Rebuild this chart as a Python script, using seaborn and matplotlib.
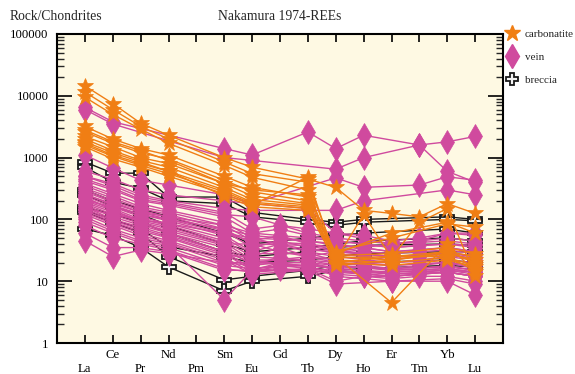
import numpy as np
import pandas as pd
import matplotlib
matplotlib.use("Agg")
import matplotlib.pyplot as plt
from matplotlib.lines import Line2D
import seaborn as sns

N = np.nan
elements = ["La", "Ce", "Pr", "Nd", "Pm", "Sm", "Eu", "Gd", "Tb", "Dy", "Ho", "Er", "Tm", "Yb", "Lu"]

carbonatite = [
    [14500, 7500, 3600, 2300, N, 1000, 700, N, 450, 330, 140, 125, 110, 180, 125],
    [11500, 6000, 3200, 2000, N, 850, 550, N, 400, 25, N, 22, N, 28, 22],
    [9500, 5000, 2900, 1700, N, 750, 480, N, 300, 22, N, 20, N, 24, 18],
    [3200, 2000, 1400, 1100, N, 500, 330, N, 230, 24, N, 25, N, 30, 25],
    [2600, 1700, 1200, 950, N, 430, 280, N, 200, 20, N, 18, N, 22, 17],
    [2200, 1500, 1000, 800, N, 380, 240, N, 180, 18, N, 22, N, 30, 20],
    [2000, 1300, 900, 700, N, 330, 210, N, 170, 30, N, 50, N, 85, 75],
    [1800, 1200, 850, 600, N, 300, 190, N, 160, 26, N, 28, N, 35, 28],
    [1600, 1050, 750, 550, N, 280, 180, N, 150, 25, N, 4.5, N, 40, 14],
    [1500, 950, 700, 500, N, 260, 170, N, 480, 22, 120, 24, 90, 150, 12],
    [2800, 1800, 1300, 900, N, 380, 300, N, 250, 28, N, 60, N, 90, 60],
    [1700, 1100, 800, 600, N, 240, 160, N, 140, 20, N, 25, N, 25, 15],
]

vein = [
    [6500, 3800, N, N, N, 1400, 1100, N, 2600, 1400, 2300, N, 1600, 600, 400],
    [6000, 3500, N, N, N, 1000, 900, N, N, 650, 1000, N, 1600, 1800, 2200],
    [600, 450, 300, 250, N, 200, 180, N, N, 470, 330, N, 360, 490, 430],
    [500, 380, 250, 200, N, 150, 140, N, N, 140, 200, N, N, 300, 250],
    [1100, 680, 430, 360, N, 250, 180, N, 150, 60, N, 40, N, 45, 40],
    [420, 300, 200, 170, N, 110, 60, 70, 55, 45, 40, 35, 38, 40, 35],
    [380, 260, 180, 140, N, 90, 50, N, 45, 40, N, 30, N, 35, 30],
    [350, 240, 160, 130, N, 80, 45, 55, 40, 35, 30, 28, 30, 32, 28],
    [320, 220, 150, 120, N, 70, 40, N, 38, 30, N, 25, N, 28, 22],
    [300, 200, 140, 110, N, 65, 35, 45, 35, 28, 25, 22, 25, 26, 24],
    [280, 190, 130, 100, N, 60, 50, N, 30, 25, N, 20, N, 22, 20],
    [260, 170, 120, 95, N, 55, 30, 40, 32, 30, 28, 24, 26, 30, 25],
    [240, 160, 110, 85, N, 50, 28, N, 28, 22, N, 18, N, 20, 18],
    [220, 150, 100, 80, N, 45, 25, 35, 25, 20, 18, 16, 18, 20, 16],
    [200, 140, 95, 75, N, 42, 22, N, 22, 18, N, 15, N, 16, 14],
    [190, 130, 90, 70, N, 40, 40, 30, 25, 22, 20, 20, 22, 25, 22],
    [180, 120, 85, 65, N, 38, 20, N, 20, 15, N, 12, N, 14, 12],
    [170, 110, 80, 60, N, 35, 18, 25, 20, 16, 15, 13, 14, 15, 13],
    [160, 100, 75, 55, N, 30, 16, N, 18, 12, N, 10, N, 11, 9],
    [150, 95, 70, 52, N, 28, 15, 20, 17, 14, 13, 12, 13, 14, 12],
    [140, 90, 65, 50, N, 26, 25, N, 22, 20, N, 18, N, 20, 18],
    [130, 85, 60, 45, N, 24, 14, 18, 16, 10, 12, 11, 12, 12, 10],
    [120, 80, 55, 42, N, 22, 13, N, 15, 9, N, 10, N, 10, 6],
    [110, 70, 50, 40, N, 20, 18, 20, 20, 18, 17, 15, 16, 18, 15],
    [100, 65, 45, 38, N, 5, 15, N, 15, 14, N, 14, N, 15, 14],
    [90, 60, 42, 35, N, 18, 16, 18, 18, 16, 15, 14, 15, 16, 14],
    [80, 50, 40, 32, N, 16, 14, N, 16, 15, N, 13, N, 14, 12],
    [60, 35, 35, 30, N, 15, 15, 16, 15, 13, 12, 12, 13, 14, 12],
    [45, 25, 32, 28, N, 20, 20, N, 18, 17, N, 16, N, 17, 15],
    [500, 350, 230, 190, N, 130, 70, 80, 70, 60, 55, 45, 50, 60, 55],
    [450, 320, 210, 180, N, 120, 110, N, 60, 50, N, 40, N, 50, 45],
    [250, 180, 130, 110, N, 80, 60, N, 50, 45, N, 35, N, 40, 38],
    [200, 160, 120, 100, N, 70, 55, 50, 45, 38, 35, 30, 32, 35, 30],
    [150, 120, 100, 85, N, 60, 45, N, 40, 32, N, 25, N, 28, 25],
    [230, 140, 90, 60, N, 30, 20, N, 25, 30, 35, 40, 45, 60, 60],
]

breccia = [
    [850, 560, 560, 230, N, 230, 130, N, 100, 90, 100, N, N, 110, 100],
    [700, 400, 320, 200, N, 180, 110, N, 90, 80, 90, N, N, 100, 95],
    [300, 200, 150, 110, N, 60, 40, N, 50, 55, 60, N, N, 70, 60],
    [140, 100, 70, 36, N, 25, 20, N, 22, 25, 28, N, N, 30, 30],
    [130, 90, 60, 25, N, 10.5, 12, N, 15, 18, 20, N, N, 22, 20],
    [70, 55, 35, 17, N, 7, 10, N, 12, 15, 16, N, N, 18, 17],
    [250, 160, 120, 80, N, 40, 30, N, 35, 40, 45, N, N, 50, 45],
    [160, 120, 90, 60, N, 30, 25, N, 30, 35, 38, N, N, 40, 38],
]

groups = ["carbonatite", "vein", "breccia"]
colors = {"carbonatite": "#F07E14", "vein": "#D04A9E", "breccia": "#1A1A1A"}


def long_frame(rows, name):
    recs = []
    for i, row in enumerate(rows):
        for j, v in enumerate(row):
            if not np.isnan(v):
                recs.append({"sample": f"{name}{i}", "group": name, "pos": j, "value": v})
    return pd.DataFrame(recs)


sns.set_theme(style="white")
plt.rcParams["font.family"] = ["Liberation Serif", "DejaVu Serif"]

fig = plt.figure(figsize=(5.75, 3.74), dpi=100)
ax = fig.add_axes([57 / 575, 1 - 343 / 374, (503 - 57) / 575, (343 - 34) / 374])
ax.set_facecolor("#FEF9E3")

bg = long_frame(breccia, "breccia")
sns.lineplot(data=bg, x="pos", y="value", units="sample", estimator=None, sort=False,
             color="#1A1A1A", lw=1.0, marker="P", markersize=9.5,
             markerfacecolor="#F4F4F4", markeredgecolor="#1A1A1A", markeredgewidth=1.3,
             ax=ax, legend=False)
vg = long_frame(vein, "vein")
sns.lineplot(data=vg, x="pos", y="value", units="sample", estimator=None, sort=False,
             color=colors["vein"], lw=1.0, marker="d", markersize=12,
             markerfacecolor=colors["vein"], markeredgecolor=colors["vein"], markeredgewidth=0.5,
             ax=ax, legend=False)
cg = long_frame(carbonatite, "carbonatite")
sns.lineplot(data=cg, x="pos", y="value", units="sample", estimator=None, sort=False,
             color=colors["carbonatite"], lw=1.0, marker="*", markersize=12,
             markerfacecolor=colors["carbonatite"], markeredgecolor=colors["carbonatite"],
             markeredgewidth=0.5, ax=ax, legend=False)

ax.set_yscale("log")
ax.set_ylim(1, 100000)
ax.set_xlim(-1, 15)
ax.set_xticks(range(len(elements)))
ax.set_xticklabels([("\n" + e) if i % 2 == 0 else e for i, e in enumerate(elements)],
                   fontsize=9.2, linespacing=1.3)
ax.set_yticks([1, 10, 100, 1000, 10000, 100000])
ax.set_yticklabels(["1", "10", "100", "1000", "10000", "100000"], fontsize=9.2)
ax.yaxis.set_minor_locator(matplotlib.ticker.LogLocator(base=10, subs=np.arange(2, 10), numticks=20))
ax.yaxis.set_minor_formatter(matplotlib.ticker.NullFormatter())
ax.tick_params(axis="y", which="major", direction="in", length=11, width=1.2,
               left=True, right=True, pad=6, colors="black")
ax.tick_params(axis="y", which="minor", direction="in", length=5, width=1.0,
               left=True, right=True)
ax.tick_params(axis="x", which="major", direction="in", length=6, width=1.2,
               bottom=True, top=True, pad=4, colors="black")
ax.set_xlabel("")
ax.set_ylabel("")
for s in ax.spines.values():
    s.set_linewidth(1.5)
    s.set_color("black")
    s.set_visible(True)

fig.text(10 / 575, 1 - 17 / 374, "Rock/Chondrites", fontsize=9.8, ha="left", va="center")
fig.text(280 / 575, 1 - 17 / 374, "Nakamura 1974-REEs", fontsize=9.8, ha="center", va="center")

handles = [
    Line2D([], [], ls="none", marker="*", markersize=12, color=colors["carbonatite"]),
    Line2D([], [], ls="none", marker="d", markersize=12, color=colors["vein"]),
    Line2D([], [], ls="none", marker="P", markersize=9, markerfacecolor="#F4F4F4",
           markeredgecolor="#1A1A1A", markeredgewidth=1.3),
]
fig.legend(handles, groups, loc="upper left", bbox_to_anchor=(505 / 575, 1 - 29 / 374),
           frameon=False, fontsize=8, handlelength=1.3, handletextpad=0.5, labelspacing=1.2,
           borderaxespad=0, borderpad=0)

fig.savefig("out.png", dpi=100)
